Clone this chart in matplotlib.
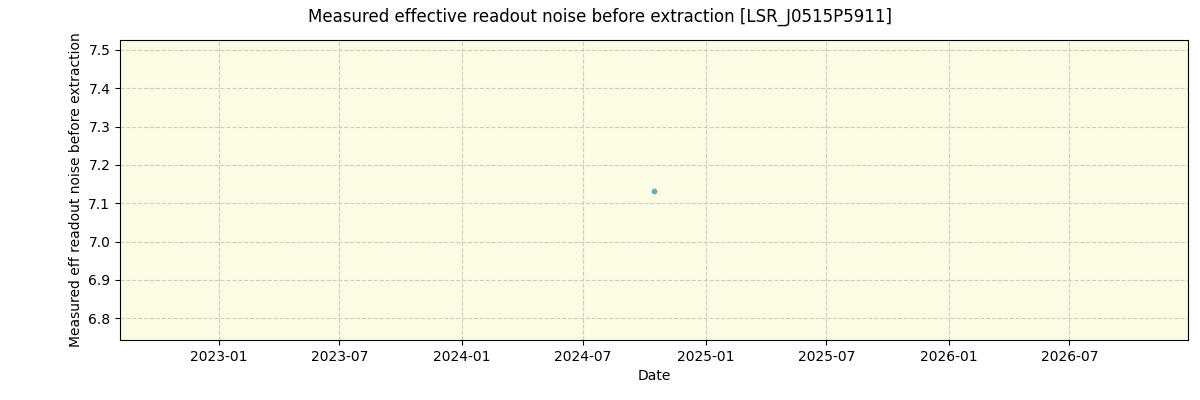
import pandas as pd
import matplotlib
matplotlib.use("Agg")
import matplotlib.pyplot as plt
import matplotlib.dates as mdates

datas = ["2024-10-15"]
ruido = [7.133]

fig, ax = plt.subplots(figsize=(12, 4), dpi=100)
fig.subplots_adjust(left=0.1, right=0.99, top=0.9, bottom=0.15)
ax.set_facecolor("#fcfbe3")
ax.scatter(pd.to_datetime(datas), ruido, s=10, color="#6aaabb", zorder=3)
ax.set_xlim(pd.Timestamp("2022-08-06"), pd.Timestamp("2026-12-26"))
ax.set_ylim(6.743, 7.526)
ax.xaxis.set_major_locator(mdates.MonthLocator(bymonth=[1, 7]))
ax.xaxis.set_major_formatter(mdates.DateFormatter("%Y-%m"))
ax.grid(True, linestyle="--", color="#cccccc", linewidth=0.8)
ax.set_axisbelow(True)
ax.set_xlabel("Date")
ax.set_ylabel("Measured eff readout noise before extraction")
fig.suptitle("Measured effective readout noise before extraction [LSR_J0515P5911]", fontsize=12)
fig.savefig("out.png")
